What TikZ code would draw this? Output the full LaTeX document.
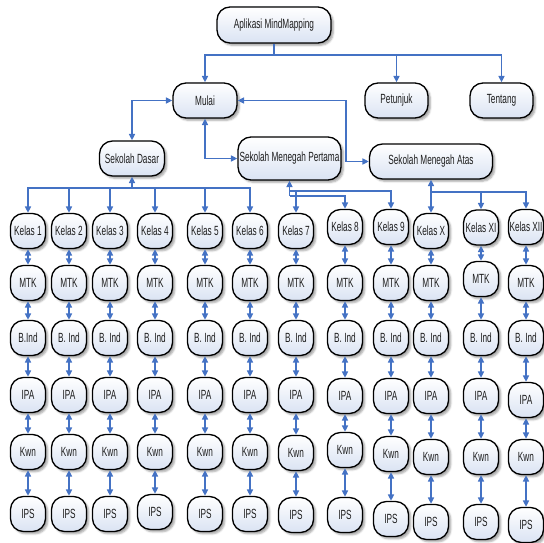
\documentclass[tikz,border=0pt]{standalone}
\usepackage{fontspec}
\setmainfont{Liberation Sans}[FakeStretch=0.62]
\usetikzlibrary{arrows.meta,shadows.blur}
\definecolor{linkblue}{RGB}{68,114,196}
\definecolor{boxfill}{RGB}{218,227,243}
\definecolor{shade}{RGB}{120,135,170}
\definecolor{txt}{RGB}{30,30,30}
\tikzset{
  mm/.style={draw=black, line width=1.3pt, rounded corners=13pt,
    top color=white, bottom color=boxfill,
    blur shadow={shadow xshift=2.4pt, shadow yshift=-2.4pt, shadow blur radius=1.8pt, shadow opacity=35, fill=shade},
    inner sep=0pt, text=txt, font=\fontsize{13.3}{15}\selectfont},
  cell/.style={mm, minimum width=35pt, minimum height=35pt},
  one/.style={draw=linkblue, line width=1.5pt, -{Triangle[length=6.5pt,width=6pt]}},
  two/.style={draw=linkblue, line width=1.5pt, {Triangle[length=6.5pt,width=6pt]}-{Triangle[length=6.5pt,width=6pt]}}
}
\begin{document}
\begin{tikzpicture}[x=1pt,y=-1pt]
\useasboundingbox (0,0) rectangle (544,543);

% upper levels
\node[mm, minimum width=114pt, minimum height=36pt] (app) at (274,25) {Aplikasi MindMapping};
\node[mm, minimum width=64pt, minimum height=35pt] (mulai) at (205,100.5) {Mulai};
\node[mm, minimum width=63pt, minimum height=35pt] (pet) at (396.5,100.5) {Petunjuk};
\node[mm, minimum width=63pt, minimum height=35pt] (ten) at (501.5,100.5) {Tentang};
\node[mm, minimum width=65pt, minimum height=35pt] (sd) at (132,158.5) {Sekolah Dasar};
\node[mm, minimum width=103pt, minimum height=43pt] (smp) at (289.5,158.5) {Sekolah Menegah Pertama};
\node[mm, minimum width=123pt, minimum height=35pt] (sma) at (431,161.5) {Sekolah Menegah Atas};

% class columns: index / x / class label / y of class, MTK, B.Ind, IPA, Kwn, IPS / B.Ind label
\foreach \i/\x/\lab/\yk/\ym/\yb/\ya/\yw/\ys/\bl in {
  1/28/Kelas 1/231/283/338/395/452/514/B.Ind,
  2/69/Kelas 2/231/283/338/395/452/514/B. Ind,
  3/110/Kelas 3/231/283/338/395/452/514/B. Ind,
  4/155/Kelas 4/231/283/338/395/452/512/B. Ind,
  5/205/Kelas 5/231/283/338/395/452/514/B. Ind,
  6/250/Kelas 6/231/283/338/395/452/514/B. Ind,
  7/296/Kelas 7/231/283/338/395/453/515/B. Ind,
  8/345/Kelas 8/227/283/338/396/450/515/B. Ind,
  9/391/Kelas 9/227/283/338/396/454/519/B. Ind,
  10/431/Kelas X/231/283/338/396/457/522/B. Ind,
  11/481/Kelas XI/227.5/279/338/396/457/522/B. Ind,
  12/526/Kelas XII/227/283/338/400/457/525/B. Ind}{
  \node[cell] (k\i) at (\x,\yk) {\lab};
  \node[cell] (m\i) at (\x,\ym) {MTK};
  \node[cell] (b\i) at (\x,\yb) {\bl};
  \node[cell] (a\i) at (\x,\ya) {IPA};
  \node[cell] (w\i) at (\x,\yw) {Kwn};
  \node[cell] (s\i) at (\x,\ys) {IPS};
  \draw[two] (k\i.south) -- (m\i.north);
  \draw[two] (m\i.south) -- (b\i.north);
  \draw[two] (b\i.south) -- (a\i.north);
  \draw[two] (a\i.south) -- (w\i.north);
  \draw[two] (w\i.south) -- (s\i.north);
}

% main menu links
\coordinate (appbus) at (274,55);
\draw[one] (app.south) -- (appbus) -| (mulai.north);
\draw[one] (appbus) -| (pet.north);
\draw[one] (appbus) -| (ten.north);

\draw[two] (sd.north) |- (mulai.west);
\draw[two] (mulai.south) |- (smp.west);
\coordinate (turn) at (346,100.5);
\draw[two] (mulai.east) -- (turn) |- (sma.west);

% Sekolah Dasar to classes 1-6
\coordinate (sdbus) at (132,188);
\draw[one] (sdbus) -- (sd.south);
\foreach \i in {1,...,6} \draw[one] (sdbus) -| (k\i.north);

% Sekolah Menegah Pertama to classes 7-9
\coordinate (smpa) at (289.5,196);
\coordinate (smpb) at (289.5,191);
\draw[one] (smpa) -- (smp.south);
\draw[one] (smpb) -| (k7.north);
\draw[one] (smpa) -| (k8.north);
\draw[one] (smpb) -| (k9.north);

% Sekolah Menegah Atas to classes X-XII
\coordinate (smabus) at (431,192);
\draw[one] (smabus) -- (sma.south);
\foreach \i in {10,11,12} \draw[one] (smabus) -| (k\i.north);
\end{tikzpicture}
\end{document}
